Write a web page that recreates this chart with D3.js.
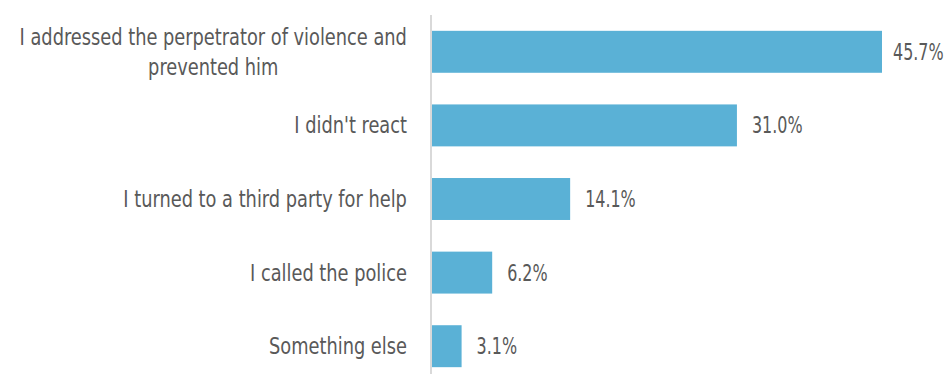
<!DOCTYPE html>
<html>
<head>
<meta charset="utf-8">
<script src="https://cdn.jsdelivr.net/npm/d3@7"></script>
<style>
  body { margin: 0; background: #fff; }
  text { font-family: "DejaVu Sans Condensed", "Liberation Sans Narrow", sans-serif; fill: #595959; }
</style>
</head>
<body>
<div id="chart"></div>
<script>
// Data
const categories = [
    ["I addressed the perpetrator of violence and", "prevented him"],
    ["I didn't react"],
    ["I turned to a third party for help"],
    ["I called the police"],
    ["Something else"]
];
const values = [45.7, 31.0, 14.1, 6.2, 3.1];

const width = 949;
const height = 374;
const left = 431;
const labelRight = 407;
const catSqueeze = 0.86;  // narrow look of the original font
const valSqueeze = 0.77;

const svg = d3.select("#chart")
    .append("svg")
    .attr("width", width)
    .attr("height", height);

const x = d3.scaleLinear()
    .domain([0, 45.7])
    .range([left, 882]);

const y = d3.scaleBand()
    .domain(d3.range(values.length))
    .range([15, 383])
    .paddingInner(0.43)
    .paddingOuter(0.215);

// bars
svg.selectAll("rect.bar")
    .data(values)
    .enter()
    .append("rect")
    .attr("class", "bar")
    .attr("x", x(0))
    .attr("y", (d, i) => y(i))
    .attr("width", d => x(d) - x(0))
    .attr("height", y.bandwidth())
    .attr("fill", "#5ab1d6");

// vertical axis line
svg.append("line")
    .attr("x1", left).attr("x2", left)
    .attr("y1", 15).attr("y2", height)
    .attr("stroke", "#d9d9d9")
    .attr("stroke-width", 2);

// category labels, block right aligned, lines centered in the block
const labels = svg.selectAll("g.cat")
    .data(categories)
    .enter()
    .append("g")
    .attr("class", "cat");

labels.each(function(lines, i) {
    const g = d3.select(this);
    const cy = y(i) + y.bandwidth() / 2;
    const lh = 30;
    const start = cy - (lines.length - 1) * lh / 2;
    const t = g.append("text")
        .attr("font-size", 23)
        .attr("text-anchor", "middle");
    const spans = lines.map((l, j) => t.append("tspan")
        .attr("x", 0)
        .attr("y", start + j * lh)
        .attr("dy", "0.35em")
        .text(l));
    const w = d3.max(spans, s => s.node().getComputedTextLength()) * catSqueeze;
    t.attr("transform", `translate(${labelRight - w / 2},0) scale(${catSqueeze},1)`);
});

// value labels
svg.selectAll("text.val")
    .data(values)
    .enter()
    .append("text")
    .attr("class", "val")
    .attr("font-size", 23)
    .attr("transform", (d, i) => `translate(${Math.min(x(d) + 15, 893)},${y(i) + y.bandwidth() / 2}) scale(${valSqueeze},1)`)
    .attr("dy", "0.35em")
    .text(d => d.toFixed(1) + "%");
</script>
</body>
</html>
